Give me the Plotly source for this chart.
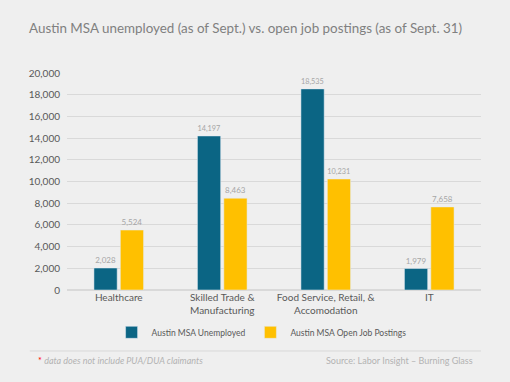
import plotly.graph_objects as go

categories = ["Healthcare", "Skilled Trade &<br>Manufacturing", "Food Service, Retail, &<br>Accomodation", "IT"]
unemployed = [2028, 14197, 18535, 1979]
postings = [5524, 8463, 10231, 7658]
y_ticks = [0, 2000, 4000, 6000, 8000, 10000, 12000, 14000, 16000, 18000, 20000]

BG = "#efefef"
fig = go.Figure()
fig.add_bar(x=categories, y=unemployed, name="Austin MSA Unemployed",
            marker=dict(color="#0b6584"),
            text=[f"{v:,}" for v in unemployed], textposition="outside",
            textfont=dict(size=8, color="#a6a6a6"), cliponaxis=False)
fig.add_bar(x=categories, y=postings, name="Austin MSA Open Job Postings",
            marker=dict(color="#ffc000"),
            text=[f"{v:,}" for v in postings], textposition="outside",
            textfont=dict(size=8, color="#a6a6a6"), cliponaxis=False)

fig.update_layout(
    width=510, height=382,
    paper_bgcolor=BG, plot_bgcolor=BG,
    margin=dict(l=67, r=29, t=73, b=92, autoexpand=False),
    barmode="group", bargap=0.49, bargroupgap=0.12,
    font=dict(family="Lato, Liberation Sans, sans-serif", color="#595959", size=10),
    title=dict(text="Austin MSA unemployed (as of Sept.) vs. open job postings (as of Sept. 31)",
               x=0.057, xanchor="left", y=0.927, yanchor="middle",
               font=dict(family="Lato, Liberation Sans, sans-serif", size=13.4, color="#808080")),
    legend=dict(orientation="h", x=0.47, xanchor="center", y=-0.195, yanchor="middle",
                font=dict(size=8.5, color="#595959"), bgcolor="rgba(0,0,0,0)",
                itemwidth=30, tracegroupgap=0),
    showlegend=True,
    yaxis=dict(range=[0, 20000], tickvals=y_ticks, tickformat=",", showgrid=True,
               gridcolor="#d9d9d9", gridwidth=1, zeroline=True, zerolinecolor="#d9d9d9",
               ticks="", tickfont=dict(size=10, color="#595959"), ticklabelstandoff=6),
    xaxis=dict(tickfont=dict(size=10, color="#595959"), showline=False, ticks=""),
)
fig.add_shape(type="line", xref="paper", yref="paper", x0=-0.09, x1=1.0, y0=-0.281, y1=-0.281,
              line=dict(color="#d9d9d9", width=1))
fig.add_annotation(xref="paper", yref="paper", x=-0.075, y=-0.323, xanchor="left", yanchor="middle",
                   text="<span style='color:#ff0000'>*</span> <i>data does not include PUA/DUA claimants</i>",
                   showarrow=False, font=dict(size=9, color="#b3b3b3"))
fig.add_annotation(xref="paper", yref="paper", x=0.985, y=-0.323, xanchor="right", yanchor="middle",
                   text="Source: Labor Insight \u2013 Burning Glass",
                   showarrow=False, font=dict(size=9, color="#b3b3b3"))
fig.write_html("out.html", config={"displayModeBar": False},
               post_script="document.body.style.margin='0';document.body.style.overflow='hidden';")
